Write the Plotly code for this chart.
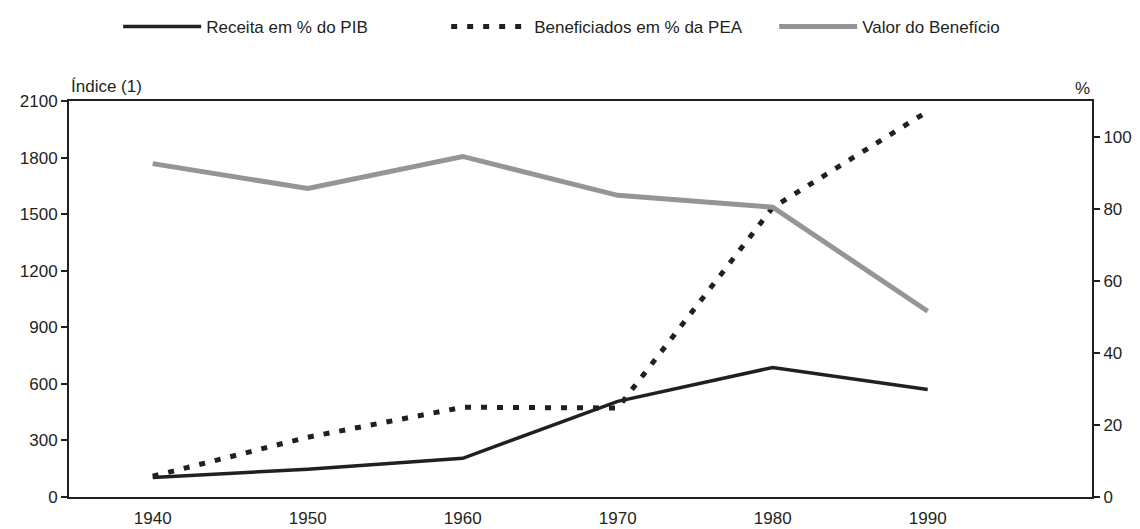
import plotly.graph_objects as go

anos = [1940, 1950, 1960, 1970, 1980, 1990]
receita_pib = [104, 147, 205, 507, 687, 570]
beneficiados_pea = [110, 317, 476, 472, 1535, 2045]
valor_beneficio = [92.6, 85.7, 94.6, 83.8, 80.5, 51.6]

left_ticks = [0, 300, 600, 900, 1200, 1500, 1800, 2100]
right_ticks = [0, 20, 40, 60, 80, 100]

DARK = "#231f20"
GRAY = "#939598"
FONT = "Liberation Sans, Arial, sans-serif"

fig = go.Figure()

fig.add_trace(
    go.Scatter(
        x=anos,
        y=receita_pib,
        name="Receita em % do PIB",
        mode="lines",
        line=dict(color=DARK, width=3.5),
    )
)

fig.add_trace(
    go.Scatter(
        x=anos,
        y=beneficiados_pea,
        name="Beneficiados em % da PEA",
        mode="lines",
        line=dict(color=DARK, width=5, dash="6px,10px"),
    )
)

fig.add_trace(
    go.Scatter(
        x=anos,
        y=valor_beneficio,
        name="Valor do Benefício",
        mode="lines",
        yaxis="y2",
        line=dict(color=GRAY, width=5),
    )
)

# the page body adds an 8px margin, so the figure is sized to the visible area
fig.update_layout(
    width=1132,
    height=521,
    margin=dict(l=61, r=48, t=93, b=32),
    paper_bgcolor="white",
    plot_bgcolor="white",
    font=dict(family=FONT, size=17, color=DARK),
    showlegend=True,
    legend=dict(
        orientation="h",
        xref="paper",
        yref="container",
        x=0.529,
        xanchor="center",
        y=0.9635,
        yanchor="middle",
        entrywidth=235,
        itemwidth=78,
        font=dict(size=17),
    ),
    xaxis=dict(
        range=[1934.6, 2000.6],
        tickvals=anos,
        showgrid=False,
        zeroline=False,
        showline=True,
        linecolor=DARK,
        linewidth=2,
        mirror=True,
        ticks="",
        ticklabelstandoff=5,
        automargin=False,
    ),
    yaxis=dict(
        range=[0, 2100],
        tickvals=left_ticks,
        showgrid=False,
        zeroline=False,
        showline=True,
        linecolor=DARK,
        linewidth=2,
        ticks="outside",
        ticklen=6,
        tickwidth=2,
        tickcolor=DARK,
        automargin=False,
    ),
    yaxis2=dict(
        range=[0, 110],
        tickvals=right_ticks,
        overlaying="y",
        side="right",
        showgrid=False,
        zeroline=False,
        showline=True,
        linecolor=DARK,
        linewidth=2,
        ticks="outside",
        ticklen=6,
        tickwidth=2,
        tickcolor=DARK,
        automargin=False,
    ),
    annotations=[
        dict(
            text="Índice (1)",
            xref="paper",
            yref="paper",
            x=0,
            y=1,
            xanchor="left",
            yanchor="bottom",
            showarrow=False,
            yshift=3,
            font=dict(size=17),
        ),
        dict(
            text="%",
            xref="paper",
            yref="paper",
            x=1,
            y=1,
            xanchor="right",
            yanchor="bottom",
            showarrow=False,
            yshift=1,
            font=dict(size=17),
        ),
    ],
)

fig.write_html("out.html")
